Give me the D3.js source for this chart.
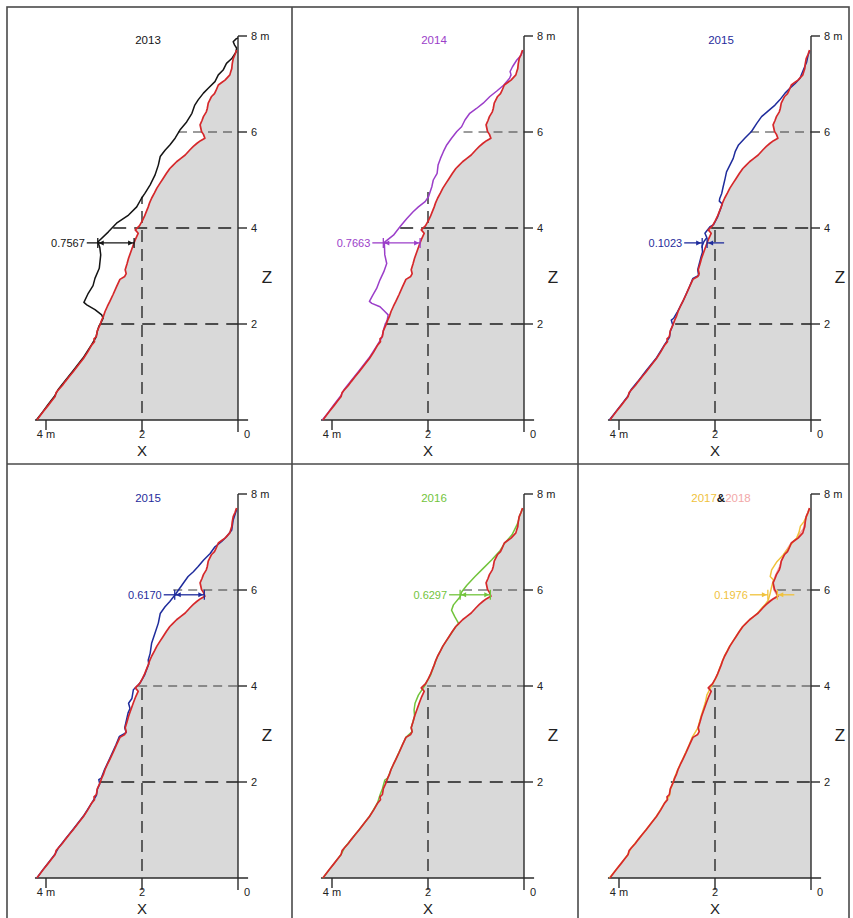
<!DOCTYPE html>
<html><head><meta charset="utf-8">
<script src="https://cdn.jsdelivr.net/npm/d3@7"></script>
<style>body{margin:0;background:#fff} svg{display:block} text{font-family:"Liberation Sans",Arial,sans-serif}</style>
</head><body><svg id="c" width="853" height="918"></svg>
<script>
// ---------- DATA (metres: [x from face, z height]) ----------
const redProfile = [
[4.19,0.00],[4.06,0.17],[3.95,0.31],[3.88,0.40],[3.81,0.49],[3.79,0.57],[3.74,0.63],[3.66,0.72],[3.60,0.80],[3.52,0.90],[3.43,1.01],[3.33,1.14],[3.22,1.28],[3.13,1.42],[3.05,1.56],[2.99,1.63],[3.00,1.69],[2.95,1.74],[2.93,1.86],[2.88,1.97],[2.84,2.08],[2.80,2.17],[2.77,2.26],[2.72,2.37],[2.67,2.47],[2.60,2.62],[2.53,2.78],[2.46,2.93],[2.36,2.99],[2.33,3.05],[2.35,3.13],[2.31,3.26],[2.28,3.37],[2.23,3.51],[2.18,3.65],[2.13,3.78],[2.08,3.89],[2.14,3.96],[2.05,4.05],[1.99,4.16],[1.95,4.24],[1.91,4.34],[1.87,4.44],[1.84,4.53],[1.80,4.62],[1.74,4.73],[1.69,4.83],[1.62,4.94],[1.56,5.03],[1.49,5.14],[1.42,5.24],[1.36,5.30],[1.28,5.38],[1.19,5.45],[1.10,5.52],[1.00,5.63],[0.93,5.70],[0.86,5.76],[0.78,5.82],[0.69,5.87],[0.72,5.95],[0.76,6.01],[0.79,6.15],[0.75,6.24],[0.72,6.32],[0.66,6.42],[0.64,6.49],[0.62,6.60],[0.55,6.74],[0.49,6.80],[0.46,6.86],[0.41,6.98],[0.34,7.03],[0.27,7.08],[0.17,7.19],[0.15,7.26],[0.13,7.32],[0.12,7.42],[0.10,7.53],[0.06,7.62],[0.03,7.71]
];
const profile2013 = [
[4.20,0.00],[4.07,0.17],[3.96,0.32],[3.82,0.50],[3.75,0.63],[3.61,0.81],[3.44,1.02],[3.23,1.29],[3.05,1.57],[2.96,1.72],[2.93,1.85],[2.90,1.95],[2.86,2.02],[2.81,2.12],[2.84,2.19],[2.98,2.30],[3.15,2.40],[3.21,2.45],[3.12,2.64],[3.02,2.80],[2.98,2.95],[2.89,3.16],[2.86,3.44],[2.88,3.60],[2.92,3.71],[2.70,3.92],[2.53,4.10],[2.28,4.27],[2.11,4.44],[2.01,4.62],[1.94,4.72],[1.83,4.90],[1.73,5.10],[1.66,5.31],[1.62,5.49],[1.52,5.62],[1.42,5.73],[1.31,5.87],[1.21,6.04],[1.07,6.21],[0.96,6.39],[0.90,6.56],[0.83,6.67],[0.72,6.81],[0.62,6.91],[0.48,7.05],[0.41,7.19],[0.31,7.29],[0.24,7.43],[0.13,7.53],[0.04,7.67],[0.03,7.75],[0.07,7.81],[0.10,7.88],[0.04,7.94],[0.00,7.96]
];
const profile2014 = [
[4.20,0.00],[4.07,0.17],[3.96,0.32],[3.82,0.50],[3.75,0.63],[3.61,0.81],[3.44,1.02],[3.23,1.29],[3.05,1.57],[2.96,1.72],[2.93,1.86],[2.90,1.97],[2.85,2.08],[2.83,2.19],[2.90,2.26],[3.00,2.36],[3.17,2.43],[3.22,2.47],[3.15,2.60],[3.07,2.74],[3.00,2.92],[2.92,3.09],[2.86,3.26],[2.90,3.44],[2.91,3.70],[2.72,3.85],[2.58,4.03],[2.44,4.20],[2.31,4.34],[2.20,4.44],[2.06,4.55],[1.99,4.65],[1.92,4.86],[1.89,5.00],[1.81,5.14],[1.79,5.31],[1.74,5.45],[1.68,5.59],[1.61,5.73],[1.51,5.87],[1.40,6.01],[1.30,6.11],[1.23,6.25],[1.13,6.39],[0.99,6.49],[0.85,6.60],[0.71,6.74],[0.56,6.86],[0.42,6.98],[0.30,7.12],[0.27,7.19],[0.29,7.26],[0.24,7.36],[0.15,7.50],[0.06,7.60],[0.03,7.69]
];
const profile2015a = [
[4.20,0.00],[4.07,0.17],[3.96,0.31],[3.82,0.49],[3.75,0.63],[3.61,0.80],[3.44,1.02],[3.23,1.28],[3.05,1.57],[2.95,1.72],[2.93,1.85],[2.88,1.98],[2.91,2.08],[2.86,2.12],[2.78,2.26],[2.67,2.47],[2.53,2.78],[2.46,2.95],[2.34,3.01],[2.36,3.13],[2.29,3.40],[2.26,3.50],[2.27,3.62],[2.23,3.72],[2.17,3.80],[2.21,3.89],[2.10,4.03],[2.03,4.07],[1.95,4.22],[1.87,4.44],[1.85,4.50],[1.91,4.56],[1.90,4.62],[1.86,4.72],[1.83,4.86],[1.79,5.03],[1.76,5.17],[1.69,5.31],[1.62,5.45],[1.58,5.59],[1.51,5.73],[1.38,5.87],[1.24,6.01],[1.13,6.18],[1.03,6.32],[0.89,6.44],[0.75,6.56],[0.65,6.67],[0.54,6.81],[0.44,6.91],[0.33,7.01],[0.23,7.12],[0.16,7.29],[0.09,7.46],[0.06,7.60],[0.03,7.69]
];
const profile2015b = [
[4.19,0.00],[4.06,0.18],[3.95,0.32],[3.81,0.50],[3.74,0.63],[3.60,0.81],[3.43,1.02],[3.22,1.29],[3.05,1.56],[2.95,1.72],[2.93,1.85],[2.88,1.96],[2.90,2.05],[2.85,2.08],[2.78,2.26],[2.68,2.47],[2.54,2.78],[2.47,2.95],[2.33,3.03],[2.36,3.13],[2.29,3.44],[2.25,3.53],[2.28,3.64],[2.21,3.74],[2.18,3.92],[2.08,4.02],[2.03,4.08],[1.95,4.22],[1.86,4.46],[1.87,4.54],[1.83,4.68],[1.80,4.89],[1.73,5.10],[1.66,5.31],[1.62,5.51],[1.52,5.65],[1.42,5.76],[1.31,5.90],[1.24,6.00],[1.14,6.14],[1.04,6.28],[0.93,6.38],[0.83,6.49],[0.72,6.62],[0.58,6.76],[0.48,6.90],[0.34,7.01],[0.24,7.11],[0.13,7.25],[0.10,7.46],[0.03,7.67]
];
const profile2016 = [
[4.19,0.00],[4.06,0.17],[3.95,0.31],[3.81,0.49],[3.74,0.63],[3.60,0.80],[3.43,1.01],[3.22,1.28],[3.05,1.57],[3.00,1.73],[2.95,1.86],[2.90,2.04],[2.84,2.08],[2.77,2.26],[2.67,2.47],[2.53,2.78],[2.46,2.93],[2.33,3.05],[2.35,3.13],[2.28,3.37],[2.29,3.50],[2.27,3.64],[2.20,3.81],[2.06,4.02],[2.04,4.06],[1.95,4.22],[1.87,4.44],[1.80,4.62],[1.69,4.83],[1.56,5.03],[1.42,5.24],[1.36,5.30],[1.44,5.44],[1.51,5.58],[1.47,5.69],[1.33,5.86],[1.30,5.96],[1.19,6.10],[1.02,6.28],[0.85,6.45],[0.67,6.63],[0.50,6.82],[0.40,6.98],[0.25,7.15],[0.15,7.35],[0.12,7.42],[0.10,7.52],[0.03,7.70]
];
const profile2017 = [
[4.20,0.00],[4.07,0.16],[3.96,0.30],[3.82,0.48],[3.75,0.62],[3.61,0.79],[3.44,1.00],[3.23,1.27],[3.06,1.55],[2.95,1.71],[2.93,1.84],[2.88,1.97],[2.85,2.07],[2.78,2.25],[2.68,2.46],[2.54,2.77],[2.47,2.94],[2.36,3.12],[2.29,3.37],[2.20,3.66],[2.17,3.81],[2.10,3.95],[2.05,4.04],[1.96,4.21],[1.88,4.43],[1.81,4.61],[1.70,4.82],[1.57,5.02],[1.43,5.23],[1.29,5.37],[1.12,5.51],[1.02,5.63],[0.96,5.69],[0.89,5.79],[0.85,5.93],[0.82,6.07],[0.78,6.21],[0.85,6.28],[0.82,6.42],[0.71,6.59],[0.58,6.73],[0.48,6.86],[0.37,7.01],[0.30,7.08],[0.25,7.20],[0.22,7.33],[0.15,7.42],[0.08,7.56],[0.03,7.70]
];
const profile2018 = [
[1.01,5.64],[0.87,5.77],[0.70,5.88],[0.77,6.00],[0.80,6.14],[0.74,6.30],[0.65,6.50],[0.56,6.75],[0.42,6.97],[0.28,7.10],[0.16,7.28],[0.11,7.50],[0.03,7.71]
];
const panelYears = ["2013", "2014", "2015", "2015", "2016", "2017&2018"];
const annotationValues = [0.7567, 0.7663, 0.1023, 0.6170, 0.6297, 0.1976];
const annotationZ = [3.69, 3.69, 3.69, 5.90, 5.90, 5.90];
const guideLevels = [6, 4, 2];
const guideStartX = [[1.25,2.60,2.87],[1.26,2.58,2.90],[1.27,2.08,2.83],[1.35,2.08,2.87],[1.27,2.02,2.90],[0.71,2.07,2.92]];
const guideTopZ = [4.65, 4.86, 4.0, 4.0, 4.0, 4.0];
const xTicks = [4, 2, 0];
const xTickLabels = ["4 m", "2", "0"];
const zTicks = [8, 6, 4, 2];
const zTickLabels = ["8 m", "6", "4", "2"];

// ---------- STYLE / LAYOUT ----------
const profiles = [[profile2013],[profile2014],[profile2015a],[profile2015b],[profile2016],[profile2018, profile2017]];
const colors = [["#141414"],["#9b3ec9"],["#1f2c9c"],["#1f2c9c"],["#72c43c"],["#f2a8a8","#f0c23c"]];
const RED = "#d6282b", AX = "#2a2a2a";
const X0 = [238, 524, 811], Z0 = [420, 878], PXM = 48;

const svg = d3.select("#c");
// frame
const fr = svg.append("g").attr("stroke", "#4a4a4a").attr("stroke-width", 1.6).attr("fill", "none");
fr.append("rect").attr("x", 7).attr("y", 7).attr("width", 842).attr("height", 930);
[292, 578].forEach(v => fr.append("line").attr("x1", v).attr("x2", v).attr("y1", 7).attr("y2", 918));
fr.append("line").attr("x1", 7).attr("x2", 849).attr("y1", 464).attr("y2", 464);

function redXAt(zv) {
  for (let i = 0; i < redProfile.length - 1; i++) {
    const a = redProfile[i], b = redProfile[i + 1];
    if ((a[1] - zv) * (b[1] - zv) <= 0 && a[1] !== b[1]) {
      return a[0] + (b[0] - a[0]) * (zv - a[1]) / (b[1] - a[1]);
    }
  }
  return 0;
}

panelYears.forEach((yr, i) => {
  const c = i % 3, r = Math.floor(i / 3);
  const x = d3.scaleLinear().domain([0, 4]).range([X0[c], X0[c] - 4 * PXM]);
  const z = d3.scaleLinear().domain([0, 8]).range([Z0[r], Z0[r] - 8 * PXM]);
  const g = svg.append("g");
  const line = d3.line().x(d => x(d[0])).y(d => z(d[1]));

  // gray fill under the red profile
  const top = redProfile[redProfile.length - 1];
  g.append("path").attr("d", line([...redProfile, [0, top[1]], [0, 0]]) + "Z")
    .attr("fill", "#d9d9d9").attr("stroke", "none");

  // dashed guides
  guideLevels.forEach((lv, k) => {
    const thin = (lv === 6) || (r === 1 && lv === 4);
    g.append("line").attr("x1", x(guideStartX[i][k])).attr("x2", x(0))
      .attr("y1", z(lv)).attr("y2", z(lv))
      .attr("stroke", thin ? "#3a3a3a" : "#1e1e1e").attr("stroke-width", thin ? 1.1 : 1.6)
      .attr("stroke-dasharray", thin ? "9,6" : "13,8");
  });
  g.append("line").attr("x1", x(2)).attr("x2", x(2))
    .attr("y1", z(-0.25)).attr("y2", z(guideTopZ[i]))
    .attr("stroke", "#2a2a2a").attr("stroke-width", 1.4).attr("stroke-dasharray", "12,7");

  // axes
  g.append("line").attr("x1", x(4.23)).attr("x2", x(-0.21)).attr("y1", z(0)).attr("y2", z(0))
    .attr("stroke", AX).attr("stroke-width", 1.4);
  g.append("line").attr("x1", x(0)).attr("x2", x(0)).attr("y1", z(-0.25)).attr("y2", z(8))
    .attr("stroke", AX).attr("stroke-width", 1.4);
  zTicks.forEach((t, k) => {
    g.append("line").attr("x1", x(0)).attr("x2", x(0) + 9).attr("y1", z(t)).attr("y2", z(t))
      .attr("stroke", AX).attr("stroke-width", 1.4);
    g.append("text").attr("x", x(0) + 13).attr("y", z(t)).attr("dy", "0.35em")
      .attr("font-size", 11).attr("fill", "#222").text(zTickLabels[k]);
  });
  xTicks.forEach((t, k) => {
    if (t === 4) g.append("line").attr("x1", x(t)).attr("x2", x(t)).attr("y1", z(0)).attr("y2", z(0) + 10)
      .attr("stroke", AX).attr("stroke-width", 1.4);
    g.append("text").attr("x", t === 0 ? x(0) + 9 : x(t)).attr("y", z(0) + 14).attr("dy", "0.35em")
      .attr("text-anchor", "middle").attr("font-size", 11).attr("fill", "#222").text(xTickLabels[k]);
  });
  g.append("text").attr("x", x(0) + 29).attr("y", z(2.98)).attr("dy", "0.35em").attr("text-anchor", "middle")
    .attr("font-size", 17).attr("fill", "#222").text("Z");
  g.append("text").attr("x", x(2)).attr("y", z(0) + 31).attr("dy", "0.35em").attr("text-anchor", "middle")
    .attr("font-size", 15).attr("fill", "#222").text("X");

  // profiles
  profiles[i].forEach((p, k) => {
    g.append("path").attr("d", line(p)).attr("fill", "none")
      .attr("stroke", colors[i][k]).attr("stroke-width", 1.5).attr("stroke-linejoin", "round");
  });
  g.append("path").attr("d", line(redProfile)).attr("fill", "none")
    .attr("stroke", RED).attr("stroke-width", 1.7).attr("stroke-linejoin", "round");

  // title
  const col = colors[i][colors[i].length - 1];
  const tt = g.append("text").attr("x", x(0) - 90).attr("y", z(8) + 4).attr("dy", "0.35em")
    .attr("text-anchor", "middle").attr("font-size", 11.5);
  if (yr.includes("&")) {
    const parts = yr.split("&");
    tt.append("tspan").attr("fill", colors[i][1]).text(parts[0]);
    tt.append("tspan").attr("fill", "#111").attr("font-weight", "bold").text("&");
    tt.append("tspan").attr("fill", colors[i][0]).text(parts[1]);
  } else tt.attr("fill", col).text(yr);

  // difference annotation
  const za = annotationZ[i], v = annotationValues[i];
  const xr = redXAt(za), xa = xr + v;
  const pa = x(xa), pr = x(xr), py = z(za);
  const ag = g.append("g").attr("stroke", col).attr("fill", col).attr("stroke-width", 1.3);
  const wide = v > 0.3;
  const textEnd = wide ? pa - 13 : pa - 20;
  g.append("text").attr("x", textEnd).attr("y", py).attr("dy", "0.35em").attr("text-anchor", "end")
    .attr("font-size", 11).attr("fill", col).text(v.toFixed(4));
  const arrow = (tx, dir) => ag.append("path").attr("stroke", "none")
    .attr("d", `M${tx},${py}L${tx - dir * 5},${py - 2.5}L${tx - dir * 5},${py + 2.5}Z`);
  [pa, pr].forEach(p => ag.append("line").attr("x1", p).attr("x2", p).attr("y1", py - 5).attr("y2", py + 5));
  if (wide) {
    ag.append("line").attr("x1", textEnd + 2).attr("x2", pa + 3).attr("y1", py).attr("y2", py);
    ag.append("line").attr("x1", pa).attr("x2", pr).attr("y1", py).attr("y2", py);
    arrow(pa + 1, -1); arrow(pr - 1, 1);
  } else {
    ag.append("line").attr("x1", textEnd + 2).attr("x2", pa).attr("y1", py).attr("y2", py);
    ag.append("line").attr("x1", pr + 17).attr("x2", pr).attr("y1", py).attr("y2", py);
    arrow(pa - 1, 1); arrow(pr + 1, -1);
  }
});
</script></body></html>
